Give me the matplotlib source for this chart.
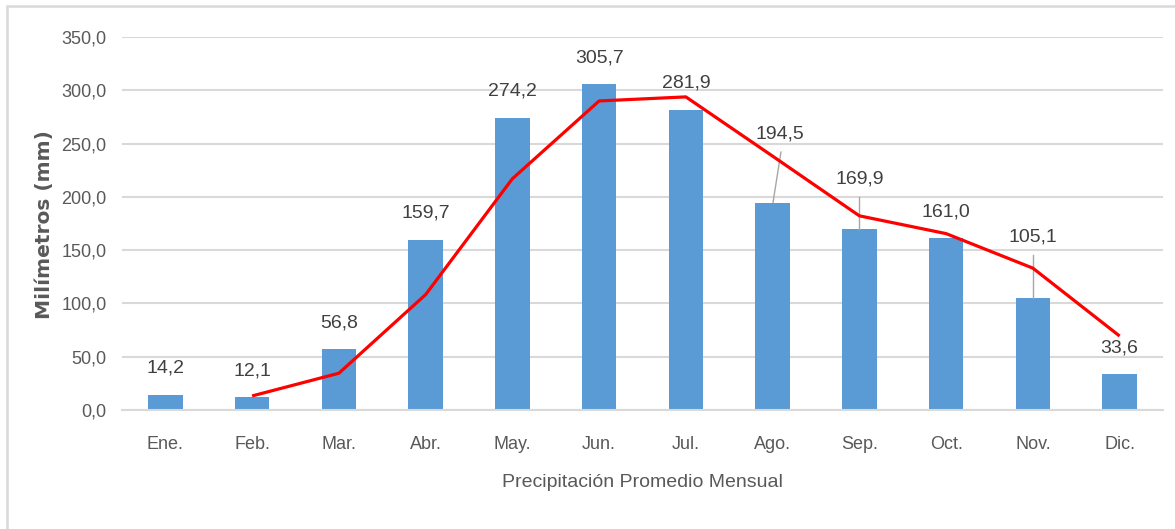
import matplotlib
matplotlib.use("Agg")
import matplotlib.pyplot as plt
from matplotlib.patches import Rectangle
import numpy as np

plt.rcParams['font.family'] = ['Liberation Sans', 'DejaVu Sans']

meses = ["Ene.", "Feb.", "Mar.", "Abr.", "May.", "Jun.",
         "Jul.", "Ago.", "Sep.", "Oct.", "Nov.", "Dic."]
precipitacion = [14.2, 12.1, 56.8, 159.7, 274.2, 305.7,
                 281.9, 194.5, 169.9, 161.0, 105.1, 33.6]
# media movil de 2 periodos (desde Feb.)
tendencia = [13.2, 34.5, 108.3, 217.0, 290.0, 293.8,
             238.2, 182.2, 165.5, 133.1, 69.4]

# etiquetas desplazadas con linea guia: mes -> (x, y de la etiqueta)
desplazadas = {7: (7.08, 259.0), 8: (8.0, 216.8), 10: (10.0, 162.3)}

gris = "#595959"
azul = "#5B9BD5"
linea_rejilla = "#D9D9D9"

fig = plt.figure(figsize=(11.75, 5.29), dpi=100)
ax = fig.add_axes([122 / 1175, 1 - 410 / 529, (1163 - 122) / 1175, (410 - 37) / 529])

x = np.arange(len(meses))
ax.bar(x, precipitacion, width=0.4, color=azul, zorder=2)
ax.plot(x[1:], tendencia, color="#FF0000", lw=2.3, zorder=3,
        solid_capstyle="butt")

for i, v in enumerate(precipitacion):
    txt = f"{v:.1f}".replace(".", ",")
    if i in desplazadas:
        lx, ly = desplazadas[i]
        ax.text(lx, ly, txt, ha="center", va="center", fontsize=14, color="#404040", zorder=4)
        # linea guia desde la etiqueta hasta la barra
        ax.plot([lx + (0.016 if i == 7 else 0), i + (0.004 if i == 7 else 0)],
                [ly - 17, v], color="#A6A6A6", lw=1.0, zorder=2.5)
    else:
        ax.annotate(txt, (i, v), xytext=(0, 19), textcoords="offset points",
                    ha="center", va="center", fontsize=14, color="#404040", zorder=4)

ax.set_xlim(-0.5, len(meses) - 0.5)
ax.set_ylim(0, 350)
ax.set_yticks(np.arange(0, 351, 50))
ax.set_yticklabels([f"{t:.1f}".replace(".", ",") for t in np.arange(0, 351, 50)])
ax.set_xticks(x)
ax.set_xticklabels(meses)

ax.grid(axis="y", color=linea_rejilla, lw=1.5, zorder=0)
ax.set_axisbelow(True)
for s in ["top", "right", "left"]:
    ax.spines[s].set_visible(False)
ax.spines["bottom"].set_color(linea_rejilla)
ax.spines["bottom"].set_linewidth(1.5)
ax.tick_params(axis="both", length=0, labelsize=13, labelcolor=gris)
ax.tick_params(axis="x", pad=19)
ax.tick_params(axis="y", pad=11)

ax.set_xlabel("Precipitación Promedio Mensual", fontsize=14, color=gris, labelpad=15)
fig.text(45 / 1175, 1 - 225 / 529, "Milímetros (mm)", rotation=90, ha="center", va="center",
         fontsize=14.5, fontweight="bold", color=gris, family="DejaVu Sans")

# marco exterior
fig.add_artist(Rectangle((7 / 1175, -0.1), 1.1, 1.1 - 6 / 529, transform=fig.transFigure,
                         fill=False, edgecolor=linea_rejilla, lw=1.8))

fig.savefig("out.png", dpi=100)
